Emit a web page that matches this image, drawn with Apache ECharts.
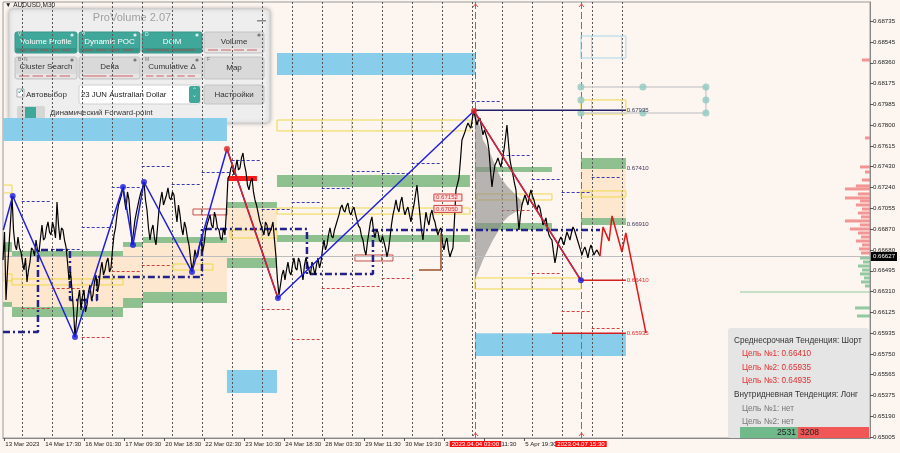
<!DOCTYPE html>
<html><head><meta charset="utf-8">
<script src="https://cdn.jsdelivr.net/npm/echarts@6/dist/echarts.min.js"></script>
<style>html,body{margin:0;padding:0;background:#fdf5ef;}#c{width:900px;height:453px;}</style>
</head><body><div id="c"></div>
<script>
// ---------- DATA ----------
const priceStartDay = 0.377;   // trading days since 13 Mar 2023 00:00 (M30 closes)
const priceStepDay = 0.1;
const priceValues = [
0.66592,0.66233,0.66727,0.67166,0.66727,0.66798,0.66664,0.66502,0.66395,0.66574,
0.66682,0.66771,0.66664,0.66906,0.66789,0.66933,0.66816,0.66879,0.67112,0.66771,
0.66861,0.66709,0.66413,0.66323,0.65902,0.66233,0.66144,0.66323,0.66189,0.66368,
0.66278,0.66458,0.66368,0.66574,0.66502,0.66610,0.66520,0.66816,0.66996,0.67130,
0.67247,0.67040,0.67130,0.66727,0.66951,0.67085,0.67202,0.67291,0.67040,0.66771,
0.66906,0.66727,0.67040,0.67202,0.67085,0.67238,0.67130,0.67175,0.66933,0.66996,
0.66816,0.66879,0.66727,0.66502,0.66682,0.66637,0.66771,0.66727,0.66906,0.66996,
0.66879,0.66969,0.66861,0.66771,0.66816,0.67327,0.67417,0.67354,0.67489,0.67417,
0.67551,0.67381,0.67220,0.67327,0.67130,0.67022,0.66906,0.66816,0.66906,0.66843,
0.66933,0.66619,0.66278,0.66458,0.66413,0.66574,0.66458,0.66610,0.66502,0.66574,
0.66413,0.66610,0.66502,0.66574,0.66458,0.66610,0.66574,0.66771,0.66727,0.66879,
0.66789,0.66906,0.66996,0.67085,0.67022,0.67103,0.66996,0.67067,0.66951,0.66879,
0.66771,0.66637,0.66843,0.66978,0.66789,0.66843,0.66753,0.66816,0.66619,0.66789,
0.66996,0.67130,0.67022,0.67157,0.66996,0.67067,0.66933,0.67085,0.67264,0.66996,
0.66771,0.67022,0.66906,0.67040,0.66933,0.66816,0.66879,0.66682,0.66789,0.66619,
0.66700,0.67220,0.67327,0.67668,0.67740,0.67820,0.67775,0.67928,0.67802,0.67865,
0.67713,0.67775,0.67578,0.67247,0.67444,0.67507,0.67426,0.67578,0.67802,0.67489,
0.67354,0.67220,0.66861,0.67085,0.67175,0.67085,0.67220,0.67130,0.67040,0.67058,
0.66906,0.66969,0.66816,0.66771,0.66565,0.66727,0.66798,0.66727,0.66843,0.66771,
0.66888,0.66816,0.66727,0.66637,0.66709,0.66610,0.66727,0.66637,0.66682,0.66627];
// closes half-way between the samples above
const priceMidValues = [
0.66843,0.66502,0.66933,0.66861,0.66682,0.66700,0.66574,0.66610,0.66502,0.66700,
0.66628,0.66682,0.66789,0.66771,0.66879,0.66843,0.66933,0.66789,0.66906,0.66879,
0.66771,0.66574,0.66485,0.66144,0.66054,0.66323,0.66269,0.66126,0.66305,0.66233,
0.66395,0.66305,0.66502,0.66458,0.66574,0.66485,0.66682,0.66879,0.67085,0.67175,
0.67130,0.67202,0.66951,0.66843,0.67022,0.67148,0.67238,0.67130,0.66879,0.66861,
0.66789,0.66879,0.67130,0.67085,0.67175,0.67148,0.67202,0.67040,0.67085,0.66879,
0.66933,0.66789,0.66610,0.66574,0.66610,0.66727,0.66664,0.66843,0.66951,0.66906,
0.67022,0.66879,0.66789,0.66879,0.67040,0.67345,0.67444,0.67417,0.67399,0.67507,
0.67444,0.67264,0.67291,0.67202,0.67085,0.66951,0.66861,0.66933,0.66807,0.66879,
0.66771,0.66413,0.66368,0.66502,0.66502,0.66485,0.66547,0.66520,0.66610,0.66485,
0.66547,0.66556,0.66458,0.66520,0.66547,0.66520,0.66682,0.66682,0.66816,0.66807,
0.66861,0.66951,0.67058,0.67040,0.67076,0.67022,0.67040,0.67004,0.66897,0.66807,
0.66682,0.66753,0.66933,0.66861,0.66861,0.66771,0.66807,0.66700,0.66682,0.66906,
0.67058,0.67058,0.67112,0.67058,0.67040,0.66996,0.67022,0.67175,0.67130,0.66861,
0.66906,0.66951,0.66996,0.66969,0.66861,0.66861,0.66753,0.66753,0.66682,0.66664,
0.66951,0.67273,0.67489,0.67704,0.67784,0.67793,0.67865,0.67856,0.67847,0.67784,
0.67758,0.67668,0.67399,0.67354,0.67471,0.67462,0.67507,0.67686,0.67641,0.67417,
0.67282,0.67022,0.66996,0.67130,0.67130,0.67166,0.67166,0.67076,0.67085,0.66987,
0.66933,0.66879,0.66789,0.66664,0.66637,0.66771,0.66762,0.66789,0.66807,0.66834,
0.66861,0.66771,0.66682,0.66682,0.66664,0.66682,0.66682,0.66664,0.66655];
const currentPrice = 0.66627;

const yTickValues = [0.65005,0.65190,0.65375,0.65565,0.65750,0.65935,0.66125,0.66310,0.66495,0.66680,
  0.66870,0.67055,0.67240,0.67430,0.67615,0.67800,0.67985,0.68175,0.68360,0.68545,0.68735];
const xLabelDays = [0.42,1.753,3.087,4.42,5.753,7.087,8.42,9.753,11.087,12.42,13.753,15.087,16.42,17.753];
const xLabelTexts = ['13 Mar 2023','14 Mar 17:30','16 Mar 01:30','17 Mar 09:30','20 Mar 18:30','22 Mar 02:30',
  '23 Mar 10:30','24 Mar 18:30','28 Mar 03:30','29 Mar 11:30','30 Mar 19:30','3 Apr 03:30','4 Apr 11:30','5 Apr 19:30'];
const markedTimeDays = [16.125, 19.646];
const markedTimeTexts = ['2023.04.04 03:00','2023.04.07 15:30'];
const daySeparators = [1,2,3,4,5,6,7,8,9,10,11,12,13,14,15,16,17,18,19,20,21];

const zigzagDays   = [0.387,0.70,2.777,4.377,4.71,5.077,6.677,7.843,9.543,16.077,19.643];
const zigzagPrices = [0.66861,0.67166,0.65902,0.67247,0.66727,0.67291,0.66485,0.67587,0.66251,0.67928,0.66410];
const zigzagMediumSegments = [7, 9];   // segments (from index) of the medium-term trend
const forecastDays   = [20.277,20.38,20.58,20.68,21.01,21.14,21.81];
const forecastPrices = [0.66627,0.66888,0.66763,0.66987,0.66664,0.66834,0.65938];

const pocDays   = [0.377,1.543,1.543,2.61,2.61,3.51,3.51,7.01,7.01,10.51,10.51,12.71,12.71,20.28];
const pocPrices = [0.65947,0.65947,0.66682,0.66682,0.66233,0.66233,0.66440,0.66440,0.66870,0.66870,0.66467,0.66467,0.66861,0.66861];

const skyZones = [[0.377,7.843,0.67865,0.67659],[9.51,16.11,0.68448,0.68251],[7.843,9.51,0.65606,0.65400],[16.11,21.143,0.65935,0.65731]];
const skyOutlineBoxes = [[19.643,21.143,0.68600,0.68403]];
const greenZones = [
 [0.377,0.677,0.66753,0.66664],[0.677,4.377,0.66673,0.66619],[4.377,5.043,0.66753,0.66709],[5.043,7.843,0.66798,0.66745],
 [0.377,0.677,0.66216,0.66171],[0.677,4.377,0.66171,0.66081],[4.377,5.043,0.66251,0.66162],[5.043,7.843,0.66305,0.66207],
 [7.843,9.51,0.67112,0.67058],[7.843,9.51,0.66610,0.66520],[9.51,15.943,0.67354,0.67247],[9.51,15.943,0.66816,0.66753],
 [16.11,18.677,0.67426,0.67381],[16.11,18.677,0.66924,0.66861],[19.643,21.143,0.67507,0.67408],[19.643,21.143,0.66969,0.66906]];
const beigeZones = [[0.377,0.677,0.66664,0.66216],[0.677,4.377,0.66619,0.66171],[4.377,5.043,0.66709,0.66251],
 [5.043,7.843,0.66745,0.66305],[7.843,9.51,0.67058,0.66610],[19.643,21.143,0.67408,0.66969]];
const yellowBoxes = [[0.377,0.677,0.67264,0.67193],[0.377,0.677,0.66467,0.66404],[0.677,4.377,0.66422,0.66368],
 [6.043,7.377,0.66556,0.66502],[7.943,9.51,0.66861,0.66789],[9.51,15.943,0.67058,0.67004],[9.51,15.943,0.67847,0.67749],
 [16.177,18.677,0.67184,0.67130],[16.11,19.643,0.66431,0.66332],[19.643,21.143,0.67211,0.67157],[19.643,21.143,0.68027,0.67901]];
const redBoxes = [[6.71,7.843,0.67049,0.66996],[12.11,13.377,0.66637,0.66583]];
const redBlocks = [[7.877,8.843,0.67345,0.67300]];
const dayHighLevels = [[1,0.67121],[2,0.66691],[3,0.66888],[4,0.67247],[5,0.67435],[6,0.67273],[7,0.67381],[8,0.67489],
 [9,0.67049],[10,0.67112],[11,0.67238],[12,0.67390],[13,0.67372],[14,0.67462],[16,0.68018],[17,0.67534],[18,0.67318],[19,0.67202],[20,0.67336]];
const dayLowLevels = [[1,0.66162],[2,0.66341],[3,0.65902],[4,0.66494],[5,0.66547],[9,0.66153],[10,0.65883],[11,0.66341],
 [12,0.66359],[13,0.66431],[14,0.66628],[17,0.67040],[18,0.66476],[19,0.66135],[20,0.65982]];
const levelLines = [[16.077,21.143,0.67935],[19.643,21.143,0.66410],[18.68,21.143,0.65935]];
const levelLabelPrices = [0.67935,0.67410,0.66910,0.66410,0.65935];
const levelLabelDay = 21.17;
const priceTags = [[14.743,0.67152],[14.743,0.67050]];
const supportLine = [[14.243,0.66502],[14.977,0.66502],[14.977,0.66834]];
const gridFrame = [[19.643,0.68143],[23.81,0.68143],[23.81,0.67910],[19.643,0.67910]];
const gridFrameDots = [[19.643,0.68143],[21.71,0.68143],[23.81,0.68143],[19.643,0.68027],[23.81,0.68027],[19.643,0.67910],[21.71,0.67910],[23.81,0.67910]];

const profileStartDay = 16.11;
const profilePrices = [0.67928,0.67847,0.67758,0.67668,0.67578,0.67489,0.67399,0.67327,0.67256,0.67202,0.67148,0.67094,0.67040,0.66987,0.66933,0.66861,0.66771,0.66682,0.66592,0.66502,0.66413];
const profileWidths = [0,0.1,0.2,0.267,0.467,0.6,0.733,0.867,1.067,1.267,1.467,1.6,1.467,1.133,0.933,0.8,0.6,0.433,0.267,0.133,0];
const rightVolPrices = [0.68385,0.67686,0.67426,0.67381,0.67309,0.67256,0.67229,0.67184,0.67148,0.67121,0.67085,0.67049,0.67013,0.66978,0.66942,0.66906,0.66870,0.66834,0.66798,0.66762,0.66727,0.66691,0.66655,
 0.66610,0.66574,0.66538,0.66502,0.66467,0.66431,0.66395,0.66359,0.66305,0.66162,0.66090];
const rightVolWidths = [0.267,0.167,0.333,0.167,0.267,0.467,0.833,0.4,0.833,0.333,0.467,0.267,0.4,0.3,0.833,0.333,0.667,0.4,0.3,0.467,0.267,0.367,0.3,
 0.333,0.233,0.4,0.267,0.333,0.2,0.3,0.167,4.333,0.5,0.433];

// ---------- CHART ----------
const xMin = 0.377, xMax = 29.28, yMin = 0.64996, yMax = 0.68905;
const FONT = 'Liberation Sans';
const AXIS_FS = 6.1;
const chart = echarts.init(document.getElementById('c'));

function rectRender(fill, stroke, lw, dividers) {
  return function (params, api) {
    const a = api.coord([api.value(0), api.value(2)]);
    const b = api.coord([api.value(1), api.value(3)]);
    const children = [{type:'rect', shape:{x:a[0], y:a[1], width:b[0]-a[0], height:b[1]-a[1]},
      style:{fill: fill, stroke: stroke, lineWidth: lw}}];
    if (dividers) {
      for (let k = Math.floor(api.value(0)) + 1; k < api.value(1); k++) {
        const x = api.coord([k, api.value(2)])[0];
        children.push({type:'line', shape:{x1:x, y1:a[1], x2:x, y2:b[1]}, style:{stroke: stroke, lineWidth: lw}});
      }
    }
    return {type:'group', children: children};
  };
}
function rectSeries(data, fill, stroke, lw, dividers, z) {
  return {type:'custom', data: data, z: z, silent: true, clip: true, encode:{x:[0,1], y:[2,3]},
    renderItem: rectRender(fill, stroke, lw, dividers)};
}
function vLineSeries(days, color, dash, z, marker) {
  return {type:'custom', z: z, silent: true, data: days.map(d => [d]),
    renderItem: (params, api) => {
      const x = Math.round(api.coord([api.value(0), yMin])[0]) + 0.5;
      const cs = params.coordSys;
      const ch = [{type:'line', shape:{x1:x, y1:cs.y, x2:x, y2:cs.y + cs.height}, style:{stroke: color, lineWidth: 1, lineDash: dash}}];
      if (marker) {
        const yb = cs.y + cs.height;
        ch.push({type:'polyline', shape:{points:[[x-2.5, yb-2],[x, yb-5],[x+2.5, yb-2]]}, style:{stroke: color, lineWidth:1, fill:'none'}});
        ch.push({type:'polyline', shape:{points:[[x-2.5, cs.y+5],[x, cs.y+2],[x+2.5, cs.y+5]]}, style:{stroke: color, lineWidth:1, fill:'none'}});
      }
      return {type:'group', children: ch};
    }};
}
function dayDashSeries(data, color, z) {
  return {type:'custom', z: z, silent: true, clip: true, data: data,
    renderItem: (params, api) => {
      const a = api.coord([api.value(0), api.value(1)]);
      const b = api.coord([api.value(0) + 1, api.value(1)]);
      const y = Math.round(a[1]) + 0.5;
      return {type:'line', shape:{x1:a[0], y1:y, x2:b[0], y2:y}, style:{stroke: color, lineWidth: 1, lineDash:[3,2]}};
    }};
}

const priceData = [];
priceValues.forEach((v, i) => {
  const d = priceStartDay + i * priceStepDay;
  priceData.push([d, v]);
  if (i < priceMidValues.length) priceData.push([d + priceStepDay / 2, priceMidValues[i]]);
});
const zigData = zigzagDays.map((d, i) => [d, zigzagPrices[i]]);
const series = [
  rectSeries(beigeZones, '#fde8cf', null, 0, false, 1),
  rectSeries(greenZones, '#8fc08f', null, 0, false, 1),
  rectSeries(skyZones, '#88cdea', null, 0, false, 1),
  vLineSeries(daySeparators, '#555555', [2,2], 2, false),
  vLineSeries(markedTimeDays, '#e04848', [7,3], 2, true),
  rectSeries(yellowBoxes, 'transparent', '#f0d84a', 1, true, 3),
  rectSeries(redBoxes, 'transparent', '#c8504a', 1, true, 3),
  rectSeries(skyOutlineBoxes, 'transparent', '#a8d8ea', 1, true, 3),
  rectSeries(redBlocks, '#ff1a1a', null, 0, false, 3),
  dayDashSeries(dayHighLevels, '#3a3ab4', 3),
  dayDashSeries(dayLowLevels, '#d04040', 3),
  {type:'custom', z:3, silent:true, clip:true, data:[[profileStartDay]],
    renderItem: (params, api) => {
      const pts = profilePrices.map((p, i) => api.coord([profileStartDay + profileWidths[i], p]));
      pts.push(api.coord([profileStartDay, profilePrices[profilePrices.length - 1]]));
      pts.push(api.coord([profileStartDay, profilePrices[0]]));
      return {type:'polygon', shape:{points: pts}, style:{fill:'rgba(135,135,135,0.6)'}};
    }},
  {type:'custom', z:3, silent:true, clip:true, data: rightVolPrices.map((p, i) => [p, rightVolWidths[i]]),
    renderItem: (params, api) => {
      const cs = params.coordSys;
      const y = api.coord([xMin, api.value(0)])[1];
      const w = api.size([api.value(1), 0])[0];
      const above = api.value(0) > currentPrice;
      const h = api.value(1) > 2 ? 1 : 3;
      return {type:'rect', shape:{x: cs.x + cs.width - w, y: y - h / 2, width: w, height: h},
        style:{fill: above ? 'rgba(240,125,125,0.8)' : 'rgba(120,190,140,0.8)'}};
    }},
  // current price line + axis tag
  {type:'custom', z:4, silent:true, clip:false, data:[[currentPrice]],
    renderItem: (params, api) => {
      const cs = params.coordSys;
      const y = Math.round(api.coord([xMin, api.value(0)])[1]) + 0.5;
      return {type:'group', children:[
        {type:'line', shape:{x1:cs.x, y1:y, x2:cs.x + cs.width, y2:y}, style:{stroke:'#bdbdbd', lineWidth:1}},
        {type:'rect', shape:{x:cs.x + cs.width + 1, y:y - 4.5, width:26, height:9}, style:{fill:'#000'}},
        {type:'text', x:cs.x + cs.width + 3, y:y, style:{text: api.value(0).toFixed(5), fill:'#fff', fontSize:AXIS_FS, fontFamily: FONT, verticalAlign:'middle'}}
      ]};
    }},
  {type:'line', z:4, silent:true, data: pocDays.map((d, i) => [d, pocPrices[i]]), showSymbol:false,
    lineStyle:{color:'#22228a', width:2.5, type:[7,3,2,3]}},
  {type:'line', z:4, silent:true, data: gridFrame, showSymbol:false, lineStyle:{color:'#cfcfcf', width:1.5}},
  {type:'scatter', z:5, silent:true, data: gridFrameDots, symbolSize:7, itemStyle:{color:'#8fc9c0'}},
  {type:'line', z:5, silent:true, data: priceData, showSymbol:false, lineStyle:{color:'#000', width:1.2}},
  {type:'line', z:5, silent:true, data: supportLine, showSymbol:false, lineStyle:{color:'#a0522d', width:1.5}},
  {type:'line', z:6, silent:true, data: zigData, showSymbol:false, lineStyle:{color:'#2020e0', width:1.5}},
  ...zigzagMediumSegments.map(s => ({type:'line', z:6, silent:true, data:[zigData[s], zigData[s + 1]], showSymbol:false,
    lineStyle:{color:'#e02020', width:1.5}})),
  {type:'line', z:6, silent:true, data: forecastDays.map((d, i) => [d, forecastPrices[i]]), showSymbol:false,
    lineStyle:{color:'#e01818', width:1.5}},
  {type:'custom', z:6, silent:true, clip:true, data: levelLines,
    renderItem: (params, api) => {
      const a = api.coord([api.value(0), api.value(2)]);
      const b = api.coord([api.value(1), api.value(2)]);
      const col = api.value(2) > currentPrice ? '#20206a' : '#d02020';
      return {type:'line', shape:{x1:a[0], y1:a[1], x2:b[0], y2:b[1]}, style:{stroke: col, lineWidth: 1.5}};
    }},
  {type:'custom', z:6, silent:true, clip:true, data: levelLabelPrices.map(p => [levelLabelDay, p]),
    renderItem: (params, api) => {
      const a = api.coord([api.value(0), api.value(1)]);
      const col = api.value(1) > currentPrice ? '#3a3a5a' : '#e03030';
      return {type:'text', x: a[0], y: a[1], style:{text: api.value(1).toFixed(5), fill: col, fontSize: AXIS_FS,
        fontFamily: FONT, verticalAlign:'middle', align:'left'}};
    }},
  {type:'custom', z:6, silent:true, clip:true, data: priceTags,
    renderItem: (params, api) => {
      const a = api.coord([api.value(0), api.value(1)]);
      return {type:'group', children:[
        {type:'rect', shape:{x:a[0], y:a[1]-3.5, width:28, height:7}, style:{fill:'rgba(255,225,225,0.9)', stroke:'#d04040', lineWidth:1}},
        {type:'text', x:a[0]+2, y:a[1], style:{text: api.value(1).toFixed(5), fill:'#d03030', fontSize:AXIS_FS, fontFamily: FONT, verticalAlign:'middle'}}
      ]};
    }},
  {type:'scatter', z:7, silent:true, data: zigData.slice(1), symbolSize:6,
    itemStyle:{color: p => zigzagMediumSegments.indexOf(p.dataIndex + 1) >= 0 ? '#e02020' : '#1a1ae0'}}
];

// ---------- UI overlays ----------
const TEAL = '#3fa89a';
const g = [];
g.push({type:'text', x:5, y:2, style:{text:'▼ AUDUSD,M30', fontSize:6.5, fontFamily: FONT, fill:'#222'}});
g.push({type:'rect', shape:{x:9, y:9, width:261, height:114, r:4}, style:{fill:'#eeeeee', stroke:'#cccccc', lineWidth:1, shadowBlur:4, shadowColor:'rgba(0,0,0,0.25)'}});
g.push({type:'text', x:132, y:18, style:{text:'ProVolume 2.07', fontSize:11, fontFamily: FONT, fill:'#a0a0a0', align:'center', verticalAlign:'middle'}});
g.push({type:'rect', shape:{x:257, y:20, width:9, height:1.5}, style:{fill:'#888'}});
function button(x, y, w, h, label, teal, tag, strip) {
  g.push({type:'rect', shape:{x:x, y:y, width:w, height:h, r:2}, style:{fill: teal ? TEAL : '#d9d9d9', stroke: teal ? '#389488' : '#c4c4c4', lineWidth:1}});
  g.push({type:'text', x:x + w / 2, y:y + (strip ? 10 : h / 2), style:{text: label, fontSize:8, fontFamily: FONT, fill: teal ? '#fff' : '#333', align:'center', verticalAlign:'middle'}});
  if (tag) g.push({type:'text', x:x + 3, y:y + 2.5, style:{text: tag, fontSize:5, fontFamily: FONT, fill: teal ? '#d8f0ec' : '#777', verticalAlign:'middle'}});
  if (strip) {
    g.push({type:'circle', shape:{cx:x + w - 5, cy:y + 3, r:1.6}, style:{fill: teal ? '#d8f0ec' : '#777'}});
    g.push({type:'rect', shape:{x:x + 1, y:y + h - 5, width:w - 2, height:4}, style:{fill: teal ? '#36968a' : '#e6e6e6'}});
    for (let i = 0; i < strip; i++) {
      const sx = x + 4 + i * (w - 8) / strip;
      g.push({type:'rect', shape:{x:sx, y:y + h - 3.5, width:(w - 8) / strip - 3, height:1}, style:{fill: teal ? '#a05050' : '#d06060'}});
    }
  }
}
button(15, 32, 62, 21, 'Volume Profile', true, 'V', 5);
button(79, 32, 61, 21, 'Dynamic POC', true, 'P', 4);
button(142, 32, 60, 21, 'DOM', true, 'D', 2);
button(204, 32, 60, 21, 'Volume', false, '', 4);
button(15, 57, 62, 22, 'Cluster Search', false, 'B  N', 4);
button(79, 57, 61, 22, 'Delta', false, '', 2);
button(142, 57, 60, 22, 'Cumulative Δ', false, 'M', 5);
button(204, 57, 60, 22, 'Map', false, 'F', 0);
g.push({type:'rect', shape:{x:17, y:89, width:7, height:8}, style:{fill:'#fff', stroke:'#aaa', lineWidth:1}});
g.push({type:'text', x:17, y:92, style:{text:'✓', fontSize:9, fontFamily:'DejaVu Sans', fill: TEAL, verticalAlign:'middle'}});
g.push({type:'text', x:26, y:94.5, style:{text:'Автовыбор', fontSize:8, fontFamily: FONT, fill:'#333', verticalAlign:'middle'}});
g.push({type:'rect', shape:{x:79, y:85, width:121, height:19, r:2}, style:{fill:'#fff', stroke:'#cfcfcf', lineWidth:1}});
g.push({type:'text', x:81, y:95, style:{text:'23 JUN Australian Dollar', fontSize:7.8, fontFamily: FONT, fill:'#222', verticalAlign:'middle'}});
g.push({type:'rect', shape:{x:189, y:86, width:11, height:17, r:2}, style:{fill: TEAL}});
g.push({type:'text', x:194.5, y:91, style:{text:'˄', fontSize:7, fontFamily:'DejaVu Sans', fill:'#fff', align:'center', verticalAlign:'middle'}});
g.push({type:'text', x:194.5, y:99, style:{text:'˅', fontSize:7, fontFamily:'DejaVu Sans', fill:'#fff', align:'center', verticalAlign:'middle'}});
button(204, 85, 60, 19, 'Настройки', false, '', 0);
g.push({type:'rect', shape:{x:17, y:106, width:28, height:13, r:2}, style:{fill:'#d6d6d6'}});
g.push({type:'rect', shape:{x:25, y:107, width:11, height:11}, style:{fill: TEAL}});
g.push({type:'text', x:50, y:113, style:{text:'Динамический Forward-point', fontSize:7.8, fontFamily: FONT, fill:'#333', verticalAlign:'middle'}});

// info panel
g.push({type:'rect', shape:{x:728, y:328, width:141, height:110, r:3}, style:{fill:'rgba(228,228,228,0.96)'}});
const infoLines = [
  ['Среднесрочная Тенденция: Шорт', 734, 341, '#333'],
  ['Цель №1: 0.66410', 742, 354, '#e03030'],
  ['Цель №2: 0.65935', 742, 367.5, '#e03030'],
  ['Цель №3: 0.64935', 742, 381, '#e03030'],
  ['Внутридневная Тенденция: Лонг', 734, 395, '#333'],
  ['Цель №1: нет', 742, 409, '#777'],
  ['Цель №2: нет', 742, 422, '#777']];
infoLines.forEach(l => g.push({type:'text', x:l[1], y:l[2], style:{text:l[0], fontSize:8.2, fontFamily: FONT, fill:l[3], verticalAlign:'middle'}}));
g.push({type:'rect', shape:{x:740, y:427, width:58, height:12}, style:{fill:'#70b98a'}});
g.push({type:'rect', shape:{x:798, y:427, width:71, height:12}, style:{fill:'#f25757'}});
g.push({type:'text', x:796, y:433, style:{text:'2531', fontSize:8.5, fontFamily: FONT, fill:'#222', align:'right', verticalAlign:'middle'}});
g.push({type:'text', x:800, y:433, style:{text:'3208', fontSize:8.5, fontFamily: FONT, fill:'#222', verticalAlign:'middle'}});

const option = {
  animation: false,
  backgroundColor: '#fdf5ef',
  textStyle: {fontFamily: FONT},
  grid: {left:3, right:30, top:2, bottom:15, show:true, borderColor:'#9a9a9a', borderWidth:1, backgroundColor:'transparent'},
  xAxis: [{
    type:'value', min:xMin, max:xMax,
    axisLine:{show:true, onZero:false, lineStyle:{color:'#888', width:1}},
    axisTick:{show:true, customValues: xLabelDays, length:3, lineStyle:{color:'#555'}},
    axisLabel:{customValues: xLabelDays, align:'left', fontSize:AXIS_FS, color:'#222', margin:3, padding:[0,0,0,1],
      formatter: v => xLabelTexts[xLabelDays.findIndex(d => Math.abs(d - v) < 1e-6)]},
    splitLine:{show:false}
  }, {
    type:'value', min:xMin, max:xMax, position:'bottom',
    axisLine:{show:false}, axisTick:{show:false}, splitLine:{show:false},
    axisLabel:{customValues: markedTimeDays, align:'center', fontSize:AXIS_FS, color:'#fff', backgroundColor:'#ff1010',
      margin:3, padding:[0,2,0,2],
      formatter: v => markedTimeTexts[markedTimeDays.findIndex(d => Math.abs(d - v) < 1e-6)]}
  }],
  yAxis: {
    type:'value', position:'right', min:yMin, max:yMax, scale:true,
    axisLine:{show:true, lineStyle:{color:'#888', width:1}},
    axisTick:{show:true, customValues: yTickValues, length:3, lineStyle:{color:'#555'}},
    axisLabel:{customValues: yTickValues, fontSize:AXIS_FS, color:'#222', margin:3, formatter: v => v.toFixed(5)},
    splitLine:{show:false}
  },
  series: series,
  graphic: g
};
chart.setOption(option);
</script>
</body></html>
